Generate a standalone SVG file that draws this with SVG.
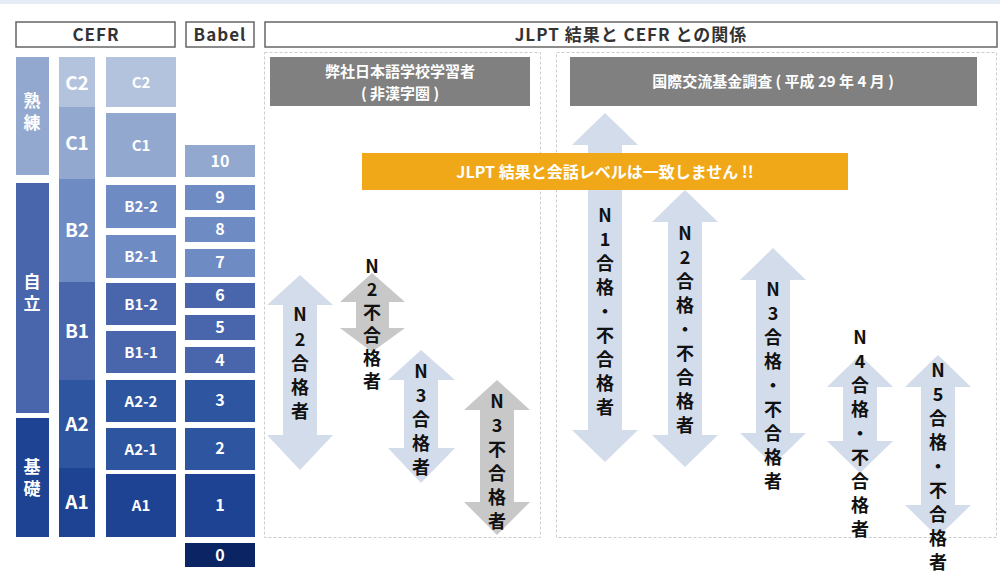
<svg xmlns="http://www.w3.org/2000/svg" width="1000" height="582" viewBox="0 0 1000 582">
<style>
text{font-family:"Noto Sans CJK JP","Noto Sans",sans-serif;font-weight:bold}
.w{fill:#fff;text-anchor:middle}
.hd{fill:#fff;stroke:#666;stroke-width:1.5}
.ht{fill:#333;font-size:17px;text-anchor:middle;letter-spacing:1px}
.dash{fill:none;stroke:#ccc;stroke-dasharray:3 2}
.vt{fill:#111;font-size:18px;text-anchor:middle}
.lb{fill:#d3dcea}.gr{fill:#c8c8c8}
</style>
<rect x="0" y="0" width="1000" height="4" fill="#e6ecf5"/>
<rect class="hd" x="16" y="22" width="159" height="25"/><text class="ht" x="96" y="41">CEFR</text>
<rect class="hd" x="186" y="22" width="68" height="25"/><text class="ht" x="220" y="41">Babel</text>
<rect class="hd" x="265" y="22" width="732" height="25"/><text class="ht" x="631" y="41">JLPT 結果と CEFR との関係</text>
<g id="cefr">
<rect x="16" y="57" width="33" height="118" fill="#93a8cf"/><text class="w" x="32" y="107" font-size="17">熟</text><text class="w" x="32" y="129" font-size="17">練</text>
<rect x="16" y="183" width="33" height="230" fill="#4966ad"/><text class="w" x="32" y="288" font-size="17">自</text><text class="w" x="32" y="310" font-size="17">立</text>
<rect x="16" y="418" width="33" height="119" fill="#1f4393"/><text class="w" x="32" y="473" font-size="17">基</text><text class="w" x="32" y="495" font-size="17">礎</text>
<rect x="59" y="57" width="36" height="50" fill="#b3c3de"/><text class="w" x="77" y="90" font-size="19">C2</text>
<rect x="59" y="107" width="36" height="72" fill="#93a8cf"/><text class="w" x="77" y="150" font-size="19">C1</text>
<rect x="59" y="179" width="36" height="103" fill="#6f8bc3"/><text class="w" x="77" y="237" font-size="19">B2</text>
<rect x="59" y="282" width="36" height="98" fill="#4966ad"/><text class="w" x="77" y="338" font-size="19">B1</text>
<rect x="59" y="380" width="36" height="88" fill="#2e55a0"/><text class="w" x="77" y="431" font-size="19">A2</text>
<rect x="59" y="468" width="36" height="69" fill="#1f4393"/><text class="w" x="77" y="509" font-size="19">A1</text>
</g>
<g id="sub">
<rect x="106" y="57" width="70" height="50" fill="#b3c3de"/><text class="w" x="141" y="88" font-size="15">C2</text>
<rect x="106" y="113" width="70" height="64" fill="#93a8cf"/><text class="w" x="141" y="151" font-size="15">C1</text>
<rect x="106" y="185" width="70" height="43" fill="#6f8bc3"/><text class="w" x="141" y="212" font-size="15">B2-2</text>
<rect x="106" y="235" width="70" height="43" fill="#6f8bc3"/><text class="w" x="141" y="262" font-size="15">B2-1</text>
<rect x="106" y="283" width="70" height="42" fill="#4966ad"/><text class="w" x="141" y="310" font-size="15">B1-2</text>
<rect x="106" y="331" width="70" height="42" fill="#4966ad"/><text class="w" x="141" y="358" font-size="15">B1-1</text>
<rect x="106" y="380" width="70" height="42" fill="#2e55a0"/><text class="w" x="141" y="407" font-size="15">A2-2</text>
<rect x="106" y="428" width="70" height="42" fill="#2e55a0"/><text class="w" x="141" y="455" font-size="15">A2-1</text>
<rect x="106" y="474" width="70" height="63" fill="#1f4393"/><text class="w" x="141" y="511" font-size="15">A1</text>
</g>
<g id="babel">
<rect x="185" y="145" width="70" height="32" fill="#93a8cf"/><text class="w" x="220" y="167" font-size="16">10</text>
<rect x="185" y="185" width="70" height="25" fill="#6f8bc3"/><text class="w" x="220" y="203" font-size="16">9</text>
<rect x="185" y="217" width="70" height="25" fill="#6f8bc3"/><text class="w" x="220" y="235" font-size="16">8</text>
<rect x="185" y="249" width="70" height="28" fill="#6f8bc3"/><text class="w" x="220" y="268" font-size="16">7</text>
<rect x="185" y="283" width="70" height="25" fill="#4966ad"/><text class="w" x="220" y="301" font-size="16">6</text>
<rect x="185" y="315" width="70" height="25" fill="#4966ad"/><text class="w" x="220" y="333" font-size="16">5</text>
<rect x="185" y="347" width="70" height="26" fill="#4966ad"/><text class="w" x="220" y="366" font-size="16">4</text>
<rect x="185" y="380" width="70" height="42" fill="#2e55a0"/><text class="w" x="220" y="406" font-size="16">3</text>
<rect x="185" y="428" width="70" height="42" fill="#2e55a0"/><text class="w" x="220" y="454" font-size="16">2</text>
<rect x="185" y="474" width="70" height="63" fill="#1f4393"/><text class="w" x="220" y="511" font-size="16">1</text>
<rect x="185" y="543" width="70" height="24" fill="#0b2463"/><text class="w" x="220" y="561" font-size="16">0</text>
</g>
<rect class="dash" x="264.5" y="52.5" width="276" height="485"/>
<rect class="dash" x="556.5" y="52.5" width="440" height="485"/>
<g id="h1"><rect x="270" y="57" width="260" height="49" fill="#808080"/><text class="w" x="400" y="77" font-size="15">弊社日本語学校学習者</text><text class="w" x="400" y="99" font-size="15">( 非漢字圏 )</text></g>
<g id="h2"><rect x="570" y="57" width="407" height="49" fill="#808080"/><text class="w" x="773" y="87" font-size="15">国際交流基金調査 ( 平成 29 年 4 月 )</text></g>
<g id="arrows">
<path class="lb" d="M300,275 L333,305 L317,305 L317,435 L333,435 L300,470 L267,435 L283,435 L283,305 L267,305Z"/>
<path class="gr" d="M372,273 L405,302 L389,302 L389,328 L405,328 L372,352 L340,328 L356,328 L356,302 L340,302Z"/>
<path class="lb" d="M421,350 L455,380 L438,380 L438,448 L455,448 L421,483 L388,448 L404,448 L404,380 L388,380Z"/>
<path class="gr" d="M497,380 L530,410 L514,410 L514,502 L530,502 L497,535 L464,502 L480,502 L480,410 L464,410Z"/>
<path class="lb" d="M605,113 L638,145 L622,145 L622,430 L638,430 L605,462 L572,430 L588,430 L588,145 L572,145Z"/>
<path class="lb" d="M685,190 L718,222 L702,222 L702,435 L718,435 L685,467 L652,435 L668,435 L668,222 L652,222Z"/>
<path class="lb" d="M773,248 L806,280 L790,280 L790,433 L806,433 L773,465 L740,433 L756,433 L756,280 L740,280Z"/>
<path class="lb" d="M860,355 L893,387 L877,387 L877,441 L893,441 L860,473 L827,441 L843,441 L843,387 L827,387Z"/>
<path class="lb" d="M938,355 L971,387 L955,387 L955,505 L971,505 L938,537 L905,505 L921,505 L921,387 L905,387Z"/>
</g>
<rect x="362" y="153" width="486" height="37" fill="#f0a818"/>
<text class="w" x="605" y="178" font-size="16">JLPT 結果と会話レベルは一致しません !!</text>
<g class="labels">
<text class="vt"><tspan x="300" y="321">N</tspan><tspan x="300" y="346">2</tspan><tspan x="300" y="370">合</tspan><tspan x="300" y="394">格</tspan><tspan x="300" y="418">者</tspan></text>
<text class="vt"><tspan x="372" y="273">N</tspan><tspan x="372" y="296">2</tspan><tspan x="372" y="319">不</tspan><tspan x="372" y="342">合</tspan><tspan x="372" y="365">格</tspan><tspan x="372" y="388">者</tspan></text>
<text class="vt"><tspan x="421" y="378">N</tspan><tspan x="421" y="402">3</tspan><tspan x="421" y="426">合</tspan><tspan x="421" y="450">格</tspan><tspan x="421" y="474">者</tspan></text>
<text class="vt"><tspan x="497" y="408">N</tspan><tspan x="497" y="432">3</tspan><tspan x="497" y="456">不</tspan><tspan x="497" y="480">合</tspan><tspan x="497" y="504">格</tspan><tspan x="497" y="528">者</tspan></text>
<text class="vt"><tspan x="605" y="222">N</tspan><tspan x="605" y="246">1</tspan><tspan x="605" y="270">合</tspan><tspan x="605" y="294">格</tspan><tspan x="605" y="318">・</tspan><tspan x="605" y="342">不</tspan><tspan x="605" y="366">合</tspan><tspan x="605" y="390">格</tspan><tspan x="605" y="414">者</tspan></text>
<text class="vt"><tspan x="685" y="240">N</tspan><tspan x="685" y="264">2</tspan><tspan x="685" y="288">合</tspan><tspan x="685" y="312">格</tspan><tspan x="685" y="336">・</tspan><tspan x="685" y="360">不</tspan><tspan x="685" y="384">合</tspan><tspan x="685" y="408">格</tspan><tspan x="685" y="432">者</tspan></text>
<text class="vt"><tspan x="773" y="296">N</tspan><tspan x="773" y="320">3</tspan><tspan x="773" y="344">合</tspan><tspan x="773" y="368">格</tspan><tspan x="773" y="392">・</tspan><tspan x="773" y="416">不</tspan><tspan x="773" y="440">合</tspan><tspan x="773" y="464">格</tspan><tspan x="773" y="488">者</tspan></text>
<text class="vt"><tspan x="860" y="344">N</tspan><tspan x="860" y="368">4</tspan><tspan x="860" y="392">合</tspan><tspan x="860" y="416">格</tspan><tspan x="860" y="440">・</tspan><tspan x="860" y="464">不</tspan><tspan x="860" y="488">合</tspan><tspan x="860" y="512">格</tspan><tspan x="860" y="536">者</tspan></text>
<text class="vt"><tspan x="938" y="377">N</tspan><tspan x="938" y="401">5</tspan><tspan x="938" y="425">合</tspan><tspan x="938" y="449">格</tspan><tspan x="938" y="473">・</tspan><tspan x="938" y="497">不</tspan><tspan x="938" y="521">合</tspan><tspan x="938" y="545">格</tspan><tspan x="938" y="569">者</tspan></text>
</g>
</svg>
